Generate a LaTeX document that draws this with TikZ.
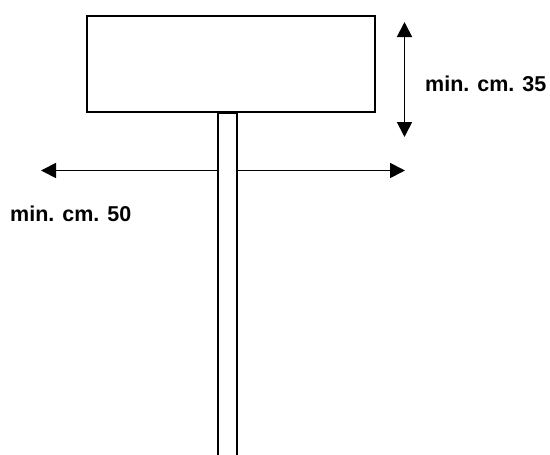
\documentclass[tikz,border=0pt]{standalone}
\usepackage{fontspec}
\setmainfont{Liberation Sans}
\usetikzlibrary{
    arrows.meta,
    positioning
}

\begin{document}
\begin{tikzpicture}[
    x=1pt, y=1pt,
    board/.style={rectangle, minimum width=288.6pt, minimum height=96.3pt,
                  inner sep=0pt, draw=black, fill=white, line width=1.8pt},
    post/.style={rectangle, minimum width=19pt, minimum height=360pt,
                 inner sep=0pt, draw=black, fill=white, line width=1.8pt},
    dimtext/.style={font=\bfseries\fontsize{21.5}{25}\selectfont,
                    inner sep=0pt, anchor=base west},
    dimarrow/.style={{Triangle[length=15pt,width=15pt]}-{Triangle[length=15pt,width=15pt]},
                     line width=1.8pt}
]
    \clip (0,0) rectangle (550,-455);

    \node (board) [board] at (231,-63.85) {};

    \coordinate (wleft) at (41,-170.5);
    \coordinate (wright) at (405,-170.5);
    \coordinate (htop) at (404.5,-22);
    \coordinate (hbot) at (404.5,-137);

    \draw [dimarrow] (wleft) -- (wright);
    \draw [dimarrow] (htop) -- (hbot);

    \node (post) [post, below=-1pt of board, xshift=-3.8pt] {};

    \node (height) [dimtext] at (425,-91) {min. cm. 35};
    \node (width) [dimtext] at (10,-221) {min. cm. 50};

\end{tikzpicture}
\end{document}
